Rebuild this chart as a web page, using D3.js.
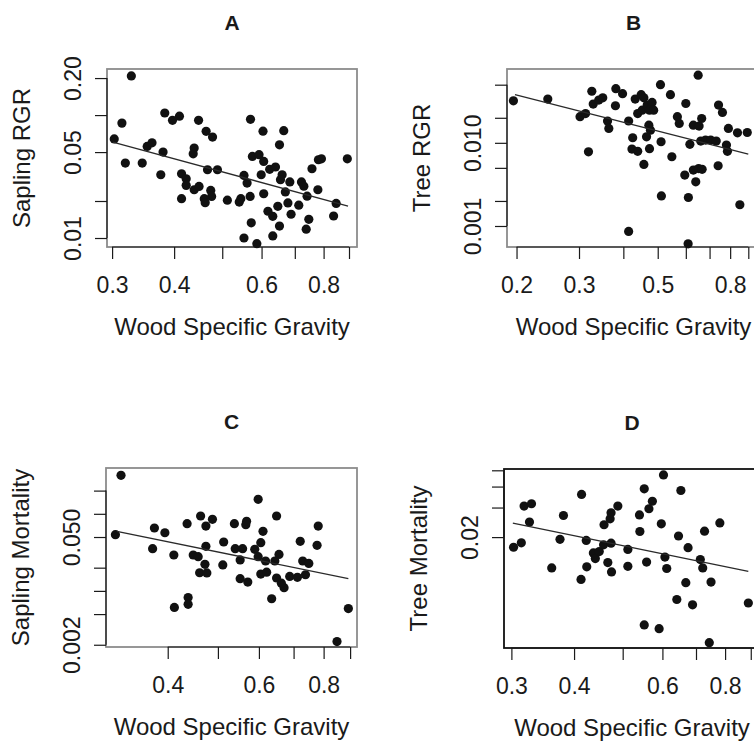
<!DOCTYPE html>
<html>
<head>
<meta charset="utf-8">
<script src="https://cdn.jsdelivr.net/npm/d3@7"></script>
<style>
  body { margin: 0; background: #fff; }
  text { font-family: "Liberation Sans", Arial, Helvetica, sans-serif; fill: #1a1a1a; }
</style>
</head>
<body>
<svg id="chart" width="754" height="744"></svg>
<script>
// A - sapling relative growth rate vs wood specific gravity
const wsgA = [0.328,0.314,0.303,0.319,0.345,0.353,0.361,0.380,0.376,0.383,0.397,0.410,0.439,0.437,0.448,0.464,0.478,0.414,0.423,0.423,
  0.439,0.449,0.414,0.467,0.489,0.474,0.476,0.460,0.462,0.512,0.541,0.545,0.569,0.553,0.561,0.570,0.575,0.593,0.604,0.606,
  0.623,0.599,0.606,0.618,0.632,0.647,0.640,0.660,0.655,0.652,0.665,0.684,0.670,0.678,0.688,0.652,0.632,0.572,0.553,0.587,
  0.713,0.722,0.730,0.741,0.747,0.738,0.758,0.779,0.781,0.792,0.838,0.848,0.893];
const rgrA = [0.208,0.086,0.064,0.0407,0.0407,0.0556,0.0595,0.050,0.0327,0.104,0.0906,0.098,0.0539,0.0484,0.0906,0.0737,0.0662,0.0333,0.0303,0.0268,
  0.0247,0.0263,0.0209,0.0359,0.0359,0.0244,0.0218,0.0209,0.0194,0.0203,0.0196,0.0209,0.0218,0.0323,0.028,0.0923,0.0461,0.0476,0.0740,0.042,
  0.0362,0.0327,0.0229,0.0165,0.015,0.0181,0.0378,0.0327,0.0298,0.0573,0.0746,0.0286,0.0237,0.0193,0.0156,0.0125,0.0104,0.0133,0.010,0.0090,
  0.0185,0.0286,0.0264,0.0219,0.0142,0.0118,0.0366,0.0247,0.0433,0.0441,0.0151,0.0191,0.0441];
const fitXA = [0.301, 0.896];
const fitYA = [0.0603, 0.0182];

// B - tree relative growth rate
const wsgB = [0.196,0.245,0.302,0.313,0.319,0.326,0.329,0.341,0.350,0.361,0.364,0.380,0.381,0.398,0.414,0.425,0.423,0.439,0.432,0.449,
  0.457,0.439,0.452,0.467,0.482,0.474,0.487,0.472,0.477,0.465,0.474,0.457,0.414,0.509,0.543,0.511,0.548,0.512,0.568,0.575,
  0.600,0.596,0.610,0.616,0.609,0.650,0.630,0.654,0.665,0.640,0.630,0.652,0.667,0.661,0.682,0.705,0.731,0.740,0.742,0.761,
  0.781,0.786,0.791,0.839,0.894,0.852];
const rgrB = [0.032,0.0336,0.0206,0.0225,0.0078,0.0417,0.0292,0.0327,0.0348,0.0183,0.0149,0.0279,0.0448,0.039,0.0183,0.0115,0.0084,0.0079,0.0336,0.0379,
  0.0348,0.0225,0.0247,0.0284,0.0306,0.0247,0.0247,0.0163,0.0142,0.0118,0.0085,0.0055,0.00086,0.050,0.0379,0.0103,0.0068,0.0023,0.0206,0.0171,
  0.0297,0.0041,0.0022,0.0096,0.00061,0.065,0.0163,0.0159,0.0196,0.0034,0.0047,0.0049,0.0048,0.0105,0.0108,0.0108,0.0105,0.0053,0.0284,0.0232,
  0.0094,0.0079,0.0149,0.0132,0.0133,0.0018];
const fitXB = [0.198, 0.90];
const fitYB = [0.0379, 0.0073];

// C - sapling mortality
const wsgC = [0.325,0.317,0.377,0.395,0.374,0.411,0.412,0.438,0.438,0.436,0.448,0.458,0.463,0.474,0.488,0.474,0.472,0.461,0.476,0.513,
  0.511,0.538,0.566,0.568,0.540,0.558,0.552,0.552,0.571,0.598,0.611,0.605,0.589,0.598,0.618,0.605,0.621,0.649,0.644,0.656,
  0.649,0.671,0.635,0.688,0.712,0.721,0.729,0.749,0.738,0.777,0.781,0.893,0.849,0.663];
const mortC = [0.316,0.0536,0.0654,0.0568,0.0353,0.0292,0.0061,0.0082,0.0067,0.0744,0.0292,0.0278,0.0936,0.0694,0.0849,0.0379,0.0221,0.0172,0.0171,0.0431,
  0.0217,0.0744,0.0722,0.0799,0.0353,0.0353,0.0252,0.0144,0.013,0.154,0.0593,0.0422,0.0346,0.0278,0.0244,0.0165,0.0175,0.0936,0.0244,0.0297,
  0.0147,0.011,0.0079,0.0154,0.0150,0.044,0.0244,0.0227,0.0162,0.039,0.0694,0.0059,0.0022,0.0126];
const fitXC = [0.319, 0.893];
const fitYC = [0.0593, 0.0144];

// D - tree mortality
const wsgD = [0.303,0.314,0.318,0.329,0.326,0.361,0.375,0.381,0.414,0.413,0.423,0.424,0.437,0.441,0.449,0.458,0.474,0.459,0.472,0.474,
  0.489,0.467,0.475,0.512,0.512,0.540,0.541,0.552,0.564,0.573,0.558,0.552,0.591,0.597,0.603,0.607,0.612,0.646,0.653,0.675,
  0.668,0.641,0.689,0.714,0.722,0.728,0.750,0.744,0.781,0.890];
const mortD = [0.0174,0.0185,0.0306,0.0316,0.0246,0.0131,0.0194,0.0269,0.0359,0.0112,0.0191,0.0133,0.0161,0.0149,0.0164,0.018,0.0184,0.0237,0.0257,0.0279,
  0.0306,0.0141,0.0124,0.0169,0.0134,0.0271,0.0216,0.0388,0.0295,0.0327,0.0142,0.0060,0.0057,0.024,0.0469,0.0152,0.013,0.0203,0.0379,0.0173,
  0.0107,0.0085,0.0079,0.0147,0.0131,0.0217,0.0108,0.0047,0.0243,0.0081];
const fitXD = [0.302, 0.890];
const fitYD = [0.0242, 0.0125];

// ticks and tick labels
const xTicksA = [0.3,0.4,0.5,0.6,0.7,0.8,0.9];
const xLabelsA = [0.3,0.4,0.6,0.8];
const yTicksA = [0.01,0.02,0.05,0.1,0.2];
const yLabelValsA = [0.01,0.05,0.2];
const yLabelTextA = ['0.01','0.05','0.20'];

const xTicksB = [0.2,0.3,0.4,0.5,0.6,0.7,0.8,0.9];
const xLabelsB = [0.2,0.3,0.5,0.8];
const yTicksB = [0.001,0.002,0.005,0.01,0.02,0.05];
const yLabelValsB = [0.001,0.01];
const yLabelTextB = ['0.001','0.010'];

const xTicksC = [0.4,0.5,0.6,0.7,0.8,0.9];
const xLabelsC = [0.4,0.6,0.8];
const yTicksC = [0.002,0.005,0.01,0.02,0.05,0.1,0.2];
const yLabelValsC = [0.002,0.05];
const yLabelTextC = ['0.002','0.050'];

const xTicksD = [0.3,0.4,0.5,0.6,0.7,0.8,0.9];
const xLabelsD = [0.3,0.4,0.6,0.8];
const yTicksD = [0.02,0.03,0.04,0.05];
const yLabelValsD = [0.02];
const yLabelTextD = ['0.02'];

const xTitle = 'Wood Specific Gravity';

const svg = d3.select('#chart');

const panels = [
  { title: 'A', yTitle: 'Sapling RGR', xs: wsgA, ys: rgrA, fitX: fitXA, fitY: fitYA,
    xTicks: xTicksA, xLabels: xLabelsA, yTicks: yTicksA, yLabelVals: yLabelValsA, yLabelText: yLabelTextA,
    left: 107, right: 357, top: 69, bottom: 247, xDomain: [0.293, 0.934], yDomain: [0.00845, 0.237], box: '#8c8c8c' },
  { title: 'B', yTitle: 'Tree RGR', xs: wsgB, ys: rgrB, fitX: fitXB, fitY: fitYB,
    xTicks: xTicksB, xLabels: xLabelsB, yTicks: yTicksB, yLabelVals: yLabelValsB, yLabelText: yLabelTextB,
    left: 507, right: 760, top: 69, bottom: 247, xDomain: [0.188, 0.971], yDomain: [0.000559, 0.0772], box: '#8c8c8c' },
  { title: 'C', yTitle: 'Sapling Mortality', xs: wsgC, ys: mortC, fitX: fitXC, fitY: fitYC,
    xTicks: xTicksC, xLabels: xLabelsC, yTicks: yTicksC, yLabelVals: yLabelValsC, yLabelText: yLabelTextC,
    left: 106, right: 357, top: 468, bottom: 647, xDomain: [0.304, 0.928], yDomain: [0.00187, 0.393], box: '#8c8c8c' },
  { title: 'D', yTitle: 'Tree Mortality', xs: wsgD, ys: mortD, fitX: fitXD, fitY: fitYD,
    xTicks: xTicksD, xLabels: xLabelsD, yTicks: yTicksD, yLabelVals: yLabelValsD, yLabelText: yLabelTextD,
    left: 504, right: 760, top: 469, bottom: 648, xDomain: [0.29, 0.939], yDomain: [0.00437, 0.0509], box: '#111' }
];

function drawPanel(p) {
  const x = d3.scaleLog().domain(p.xDomain).range([p.left, p.right]);
  const y = d3.scaleLog().domain(p.yDomain).range([p.bottom, p.top]);
  const g = svg.append('g');

  // frame
  g.append('rect')
    .attr('x', p.left).attr('y', p.top)
    .attr('width', p.right - p.left).attr('height', p.bottom - p.top)
    .attr('fill', 'none').attr('stroke', p.box).attr('stroke-width', 1.8);

  // x axis (R style: line only between first and last tick)
  const xAxis = d3.axisBottom(x)
    .tickValues(p.xTicks)
    .tickSize(12)
    .tickSizeOuter(0)
    .tickFormat(d => p.xLabels.includes(d) ? String(d) : '');
  const gx = g.append('g').attr('transform', `translate(0,${p.bottom})`).call(xAxis);
  gx.select('.domain').remove();
  gx.selectAll('line').attr('stroke', '#1a1a1a').attr('stroke-width', 1.2);
  gx.selectAll('text').attr('y', 46).attr('dy', 0)
    .attr('font-size', 23).attr('font-family', null);
  g.append('line')
    .attr('x1', x(p.xTicks[0])).attr('x2', x(p.xTicks[p.xTicks.length - 1]))
    .attr('y1', p.bottom).attr('y2', p.bottom)
    .attr('stroke', '#1a1a1a').attr('stroke-width', 1.2);

  // y axis, labels parallel to the axis
  const yAxis = d3.axisLeft(y)
    .tickValues(p.yTicks)
    .tickSize(12)
    .tickSizeOuter(0)
    .tickFormat(d => {
      const i = p.yLabelVals.indexOf(d);
      return i < 0 ? '' : p.yLabelText[i];
    });
  const gy = g.append('g').attr('transform', `translate(${p.left},0)`).call(yAxis);
  gy.select('.domain').remove();
  gy.selectAll('line').attr('stroke', '#1a1a1a').attr('stroke-width', 1.2);
  gy.selectAll('text')
    .attr('transform', 'rotate(-90)')
    .attr('x', 0).attr('y', -26).attr('dy', 0)
    .attr('text-anchor', 'middle')
    .attr('font-size', 23).attr('font-family', null);
  g.append('line')
    .attr('x1', p.left).attr('x2', p.left)
    .attr('y1', y(p.yTicks[0])).attr('y2', y(p.yTicks[p.yTicks.length - 1]))
    .attr('stroke', '#1a1a1a').attr('stroke-width', 1.2);

  // points
  g.selectAll('circle')
    .data(p.xs.map((v, i) => ({ x: v, y: p.ys[i] })))
    .enter().append('circle')
    .attr('cx', d => x(d.x))
    .attr('cy', d => y(d.y))
    .attr('r', 4.6)
    .attr('fill', '#111');

  // fitted line
  g.append('line')
    .attr('x1', x(p.fitX[0])).attr('y1', y(p.fitY[0]))
    .attr('x2', x(p.fitX[1])).attr('y2', y(p.fitY[1]))
    .attr('stroke', '#2a2a2a').attr('stroke-width', 1.3);

  const cx = (p.left + p.right) / 2;
  // panel letter
  g.append('text')
    .attr('x', cx).attr('y', p.top - 39)
    .attr('text-anchor', 'middle')
    .attr('font-size', 21).attr('font-weight', 'bold')
    .text(p.title);

  // axis titles
  g.append('text')
    .attr('x', cx).attr('y', p.bottom + 88)
    .attr('text-anchor', 'middle')
    .attr('font-size', 24)
    .text(xTitle);

  g.append('text')
    .attr('transform', `translate(${p.left - 77},${(p.top + p.bottom) / 2}) rotate(-90)`)
    .attr('text-anchor', 'middle')
    .attr('font-size', 24)
    .text(p.yTitle);
}

panels.forEach(drawPanel);
</script>
</body>
</html>
